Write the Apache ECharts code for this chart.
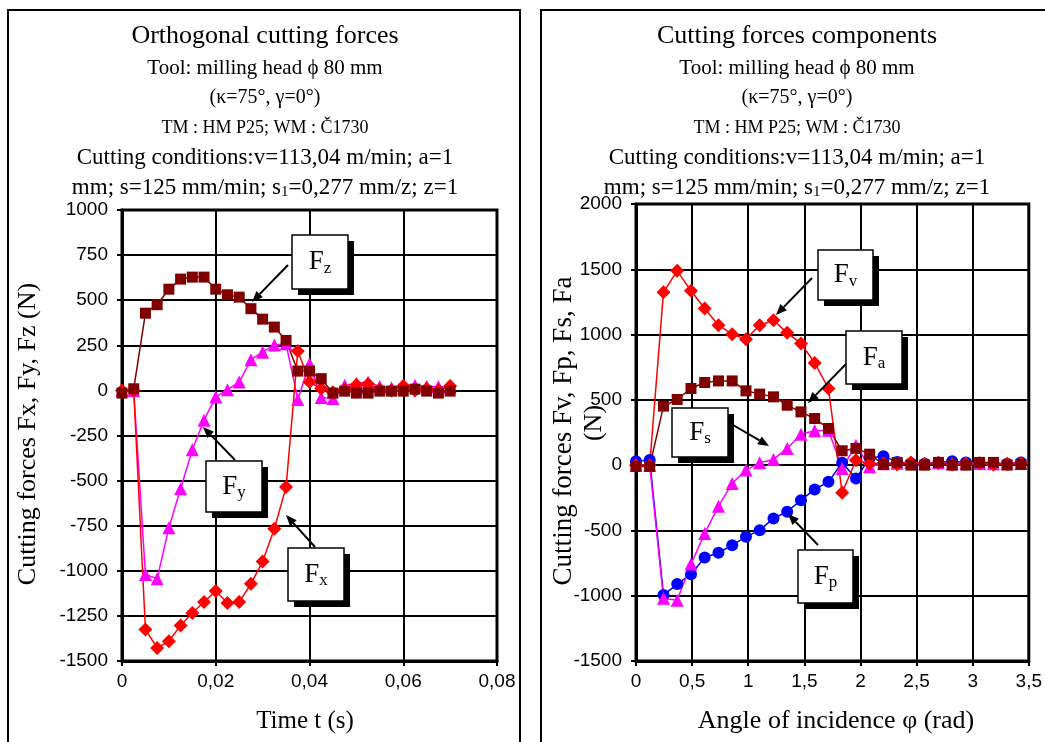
<!DOCTYPE html>
<html>
<head>
<meta charset="utf-8">
<script src="https://cdn.jsdelivr.net/npm/echarts@6/dist/echarts.min.js"></script>
<style>
  html, body { margin: 0; padding: 0; background: #fff; }
  #chart { width: 1045px; height: 742px; }
</style>
</head>
<body>
<div id="chart"></div>
<script>
// left chart: time (s) and force components (N)
var timeS = [0, 0.0025, 0.005, 0.0075, 0.01, 0.0125, 0.015, 0.0175, 0.02, 0.0225, 0.025, 0.0275, 0.03, 0.0325, 0.035,
  0.0375, 0.04, 0.0425, 0.045, 0.0475, 0.05, 0.0525, 0.055, 0.0575, 0.06, 0.0625, 0.065, 0.0675, 0.07]
var fx = [0, 0, -1325, -1428, -1390, -1303, -1234, -1173, -1112, -1179, -1173, -1072, -948, -767, -536,
  218, 46, 10, -10, 5, 30, 35, 5, 0, 25, 0, 10, 0, 25]
var fy = [0, 0, -1020, -1044, -761, -545, -329, -165, -37, 4, 46, 170, 212, 252, 258,
  -50, 148, -40, -45, 28, 40, 46, 22, 15, 28, 28, 22, 22, 18]
var fz = [-15, 9, 428, 475, 561, 617, 628, 628, 561, 530, 517, 453, 395, 351, 277,
  107, 107, 65, -15, -4, -15, -15, -4, -4, -4, 7, -4, -15, -4]

// right chart: angle of incidence (rad) and force components (N)
var phiRad = [0, 0.122, 0.245, 0.367, 0.49, 0.612, 0.735, 0.857, 0.98, 1.102, 1.225, 1.347, 1.47, 1.592, 1.715,
  1.837, 1.96, 2.082, 2.205, 2.327, 2.45, 2.572, 2.695, 2.817, 2.94, 3.062, 3.185, 3.307, 3.43]
var fv = [0, 0, 1325, 1488, 1335, 1200, 1072, 1003, 965, 1072, 1110, 1013, 932, 783, 587,
  -212, 38, 10, 15, 5, 20, 10, 15, 5, 10, 15, 5, 10, 15]
var fp = [30, 40, -995, -911, -835, -707, -671, -613, -549, -498, -408, -357, -268, -186, -128,
  18, -102, 55, 69, 25, 15, 10, 20, 30, 20, 10, 15, 10, 20]
var fs = [0, 0, -1020, -1034, -758, -523, -314, -140, -38, 18, 44, 128, 237, 263, 268,
  -25, 153, -13, 10, 15, 20, 12, 18, 10, 15, 12, 10, 15, 12]
var fa = [-10, -10, 452, 503, 587, 633, 645, 645, 569, 544, 523, 459, 408, 357, 281,
  110, 128, 84, 5, 21, 0, 0, 21, 0, 0, 21, 21, 0, 5]

var titleLines = ['Tool: milling head ϕ 80 mm', '(κ=75°, γ=0°)', 'TM : HM P25; WM : Č1730', 'Cutting conditions:v=113,04 m/min; a=1']
var titleSizes = [21, 20, 18, 23]

var SERIF = '"Liberation Serif", "Times New Roman", serif'
var SANS = '"Liberation Sans", Arial, sans-serif'

var chart = echarts.init(document.getElementById('chart'))

function pairs(xs, ys) {
  return xs.map(function (x, i) { return [x, ys[i]] })
}

function commaFmt(v) {
  return String(+v.toFixed(3)).replace('.', ',')
}

function line(name, xs, ys, color, symbol, size, grid) {
  return {
    name: name,
    type: 'line',
    xAxisIndex: grid,
    yAxisIndex: grid,
    data: pairs(xs, ys),
    symbol: symbol,
    symbolSize: size,
    color: color,
    lineStyle: { color: color, width: 1.5 },
    itemStyle: { color: color },
    animation: false,
    z: 3
  }
}

function xAx(grid, max, step) {
  return {
    type: 'value', gridIndex: grid, min: 0, max: max, interval: step,
    axisLine: { show: true, onZero: false, lineStyle: { color: '#000', width: 3 } },
    axisTick: { show: true, length: 5, lineStyle: { color: '#000', width: 2 } },
    axisLabel: { color: '#000', fontFamily: SANS, fontSize: 19, margin: 11, formatter: commaFmt },
    splitLine: { show: true, lineStyle: { color: '#000', width: 2 } }
  }
}

function yAx(grid, min, max, step) {
  return {
    type: 'value', gridIndex: grid, min: min, max: max, interval: step,
    axisLine: { show: true, onZero: false, lineStyle: { color: '#000', width: 3 } },
    axisTick: { show: true, length: 5, lineStyle: { color: '#000', width: 2 } },
    axisLabel: { color: '#000', fontFamily: SANS, fontSize: 19, margin: 14, formatter: function (v) { return String(v) } },
    splitLine: { show: true, lineStyle: { color: '#000', width: 2 } }
  }
}

// title block of one panel
function titleBlock(cx, main) {
  var els = [{
    type: 'text', z: 10,
    style: { text: main, x: cx, y: 36, align: 'center', verticalAlign: 'middle', font: '26px ' + SERIF, fill: '#000' }
  }]
  titleLines.forEach(function (t, i) {
    els.push({
      type: 'text', z: 10,
      style: { text: t, x: cx, y: 68 + i * 30, align: 'center', verticalAlign: 'middle', font: titleSizes[i] + 'px ' + SERIF, fill: '#000' }
    })
  })
  els.push({
    type: 'text', z: 10,
    style: {
      text: '{n|mm; s=125 mm/min; s}{s|1}{n|=0,277 mm/z; z=1}',
      x: cx, y: 188, align: 'center', verticalAlign: 'middle',
      rich: {
        n: { fontFamily: SERIF, fontSize: 23, lineHeight: 24, color: '#000' },
        s: { fontFamily: SERIF, fontSize: 15, lineHeight: 24, color: '#000', verticalAlign: 'bottom', padding: [8, 0, 0, 0] }
      }
    }
  })
  return els
}

// labelled box with shadow and an arrow to the curve
function callout(x, y, w, h, sub, x1, y1, x2, y2) {
  var ang = Math.atan2(y2 - y1, x2 - x1)
  var L = 11, W = 4.5
  var bx = x2 - L * Math.cos(ang), by = y2 - L * Math.sin(ang)
  return [
    { type: 'rect', z: 20, shape: { x: x + 6, y: y + 6, width: w, height: h }, style: { fill: '#000' } },
    { type: 'rect', z: 21, shape: { x: x, y: y, width: w, height: h }, style: { fill: '#fff', stroke: '#000', lineWidth: 1.5 } },
    {
      type: 'text', z: 22,
      style: {
        text: '{f|F}{s|' + sub + '}', x: x + w / 2, y: y + h / 2, align: 'center', verticalAlign: 'middle',
        rich: {
          f: { fontFamily: SERIF, fontSize: 27, lineHeight: 30, color: '#000' },
          s: { fontFamily: SERIF, fontSize: 17, lineHeight: 30, color: '#000', verticalAlign: 'bottom', padding: [10, 0, 0, 0] }
        }
      }
    },
    { type: 'line', z: 19, shape: { x1: x1, y1: y1, x2: bx, y2: by }, style: { stroke: '#000', lineWidth: 2 } },
    {
      type: 'polygon', z: 19,
      shape: { points: [[x2, y2], [bx + W * Math.sin(ang), by - W * Math.cos(ang)], [bx - W * Math.sin(ang), by + W * Math.cos(ang)]] },
      style: { fill: '#000' }
    }
  ]
}

var graphics = [
  { type: 'rect', z: -1, shape: { x: 8, y: 10, width: 512, height: 745 }, style: { fill: 'none', stroke: '#000', lineWidth: 2 } },
  { type: 'rect', z: -1, shape: { x: 541, y: 10, width: 515, height: 745 }, style: { fill: 'none', stroke: '#000', lineWidth: 2 } },
  {
    type: 'text', z: 10, x: 28, y: 434, rotation: Math.PI / 2,
    style: { text: 'Cutting forces Fx, Fy, Fz (N)', x: 0, y: 0, align: 'center', verticalAlign: 'middle', font: '26px ' + SERIF, fill: '#000' }
  },
  {
    type: 'text', z: 10, x: 564, y: 431, rotation: Math.PI / 2,
    style: { text: 'Cutting forces Fv, Fp, Fs, Fa', x: 0, y: 0, align: 'center', verticalAlign: 'middle', font: '27px ' + SERIF, fill: '#000' }
  },
  {
    type: 'text', z: 10, x: 594, y: 423, rotation: Math.PI / 2,
    style: { text: '(N)', x: 0, y: 0, align: 'center', verticalAlign: 'middle', font: '26px ' + SERIF, fill: '#000' }
  },
  {
    type: 'text', z: 10,
    style: { text: 'Time t (s)', x: 305, y: 721, align: 'center', verticalAlign: 'middle', font: '25px ' + SERIF, fill: '#000' }
  },
  {
    type: 'text', z: 10,
    style: { text: 'Angle of incidence φ (rad)', x: 836, y: 721, align: 'center', verticalAlign: 'middle', font: '26px ' + SERIF, fill: '#000' }
  }
]
graphics = graphics
  .concat(titleBlock(265, 'Orthogonal cutting forces'))
  .concat(titleBlock(797, 'Cutting forces components'))
  .concat(callout(292, 235, 56, 54, 'z', 288, 265, 252, 302))
  .concat(callout(206, 461, 56, 51, 'y', 235, 460, 203, 427))
  .concat(callout(288, 548, 56, 53, 'x', 315, 547, 286, 515))
  .concat(callout(818, 250, 55, 50, 'v', 812, 278, 776, 315))
  .concat(callout(846, 331, 56, 53, 'a', 846, 364, 808, 403))
  .concat(callout(672, 408, 56, 49, 's', 733, 425, 769, 446))
  .concat(callout(798, 550, 55, 53, 'p', 818, 545, 788, 514))

var options = {
  backgroundColor: '#fff',
  animation: false,
  grid: [
    { left: 122, top: 210, width: 375, height: 451, show: true, borderColor: '#000', borderWidth: 3, backgroundColor: 'transparent' },
    { left: 636, top: 204, width: 400, height: 457, show: true, borderColor: '#000', borderWidth: 3, backgroundColor: 'transparent' }
  ],
  xAxis: [xAx(0, 0.08, 0.02), xAx(1, 3.5, 0.5)],
  yAxis: [yAx(0, -1500, 1000, 250), yAx(1, -1500, 2000, 500)],
  series: [
    line('Fy', timeS, fy, '#ff00ff', 'triangle', 13, 0),
    line('Fx', timeS, fx, '#ff0000', 'diamond', 14, 0),
    line('Fz', timeS, fz, '#800000', 'rect', 11, 0),
    line('Fp', phiRad, fp, '#0000ff', 'circle', 12, 1),
    line('Fs', phiRad, fs, '#ff00ff', 'triangle', 13, 1),
    line('Fv', phiRad, fv, '#ff0000', 'diamond', 14, 1),
    line('Fa', phiRad, fa, '#800000', 'rect', 11, 1)
  ],
  graphic: graphics
}
chart.setOption(options, true)
</script>
</body>
</html>
